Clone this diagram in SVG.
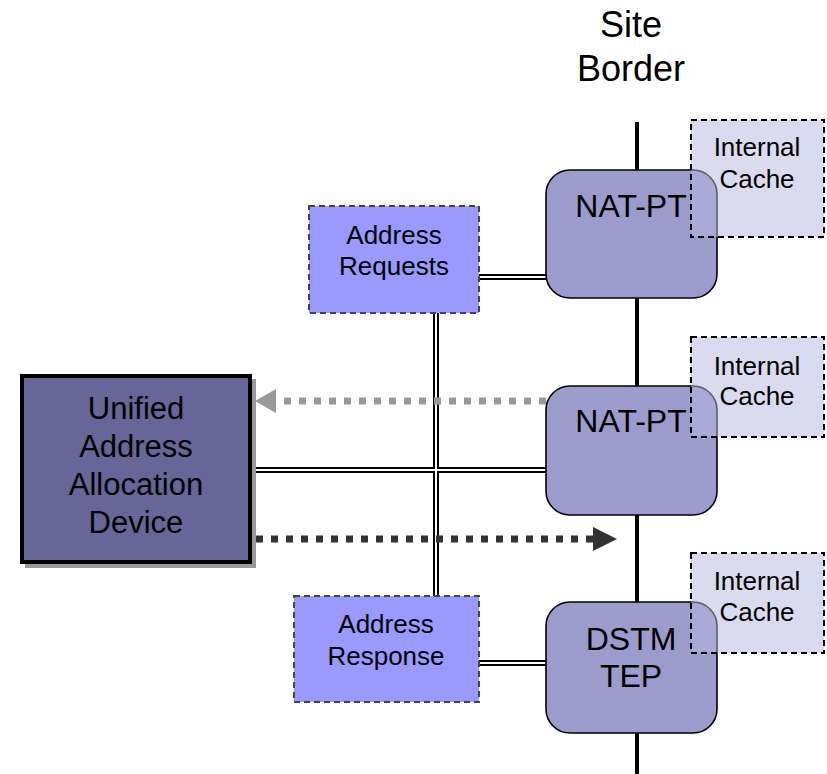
<svg xmlns="http://www.w3.org/2000/svg" width="827" height="774" viewBox="0 0 827 774">
<style>
text{font-family:"Liberation Sans",Arial,sans-serif;fill:#000;text-anchor:middle}
.nat{fill:#9C9CCC;stroke:#000;stroke-width:1.6}
.cache{fill:#B8B8E0;fill-opacity:0.5;stroke:#000;stroke-width:2;stroke-dasharray:6 4}
.addr{fill:#9999FF;stroke:#444;stroke-width:2;stroke-dasharray:6 4}
.dbl-o{fill:none;stroke:#000;stroke-width:6}
.dbl-i{fill:none;stroke:#fff;stroke-width:2}
.t26{font-size:26px}
.t31{font-size:31px}
.t32{font-size:32px}
</style>
<rect width="827" height="774" fill="#fff"/>
<g id="site-border">
<text x="631" y="37" style="font-size:36px">Site</text>
<text x="631" y="81" style="font-size:36px">Border</text>
<line x1="637" y1="122" x2="637" y2="774" stroke="#000" stroke-width="4"/>
</g>
<g id="connectors">
<path class="dbl-o" d="M479,277 H548 M436,313 V597 M252,470 H548 M479,663 H548"/>
<path class="dbl-i" d="M479,277 H548 M436,313 V597 M252,470 H548 M479,663 H548"/>
<line x1="546" y1="401" x2="276" y2="401" stroke="#999" stroke-width="7" stroke-dasharray="7 8"/>
<path d="M276,389 L255,401 L276,413 Z" fill="#999"/>
<line x1="256" y1="539" x2="594" y2="539" stroke="#333" stroke-width="7" stroke-dasharray="7 8"/>
<path d="M593,527 L617,539 L593,551 Z" fill="#333"/>
</g>
<g id="unified">
<rect x="25" y="379" width="231" height="189" fill="#999"/>
<rect x="22" y="376" width="228" height="186" fill="#666699" stroke="#000" stroke-width="4"/>
<text class="t31" x="136" y="419">Unified</text>
<text class="t31" x="136" y="457">Address</text>
<text class="t31" x="136" y="495">Allocation</text>
<text class="t31" x="136" y="533">Device</text>
</g>
<g id="address-requests">
<rect class="addr" x="309" y="206" width="170" height="107"/>
<text class="t26" x="394" y="244">Address</text>
<text class="t26" x="394" y="275">Requests</text>
</g>
<g id="address-response">
<rect class="addr" x="294" y="596" width="185" height="106"/>
<text class="t26" x="386" y="633">Address</text>
<text class="t26" x="386" y="665">Response</text>
</g>
<g id="nat-pt-1">
<rect class="nat" x="546" y="170" width="171" height="128" rx="24"/>
<text class="t32" x="631" y="217">NAT-PT</text>
</g>
<g id="cache-1">
<rect class="cache" x="691" y="120" width="133" height="117"/>
<text class="t26" x="757" y="156">Internal</text>
<text class="t26" x="757" y="188">Cache</text>
</g>
<g id="nat-pt-2">
<rect class="nat" x="546" y="386" width="171" height="129" rx="24"/>
<text class="t32" x="631" y="432">NAT-PT</text>
</g>
<g id="cache-2">
<rect class="cache" x="691" y="337" width="133" height="100"/>
<text class="t26" x="757" y="375">Internal</text>
<text class="t26" x="757" y="405">Cache</text>
</g>
<g id="dstm-tep">
<rect class="nat" x="546" y="602" width="171" height="131" rx="24"/>
<text class="t32" x="631" y="650">DSTM</text>
<text class="t32" x="631" y="687">TEP</text>
</g>
<g id="cache-3">
<rect class="cache" x="691" y="553" width="133" height="100"/>
<text class="t26" x="757" y="590">Internal</text>
<text class="t26" x="757" y="621">Cache</text>
</g>
</svg>
